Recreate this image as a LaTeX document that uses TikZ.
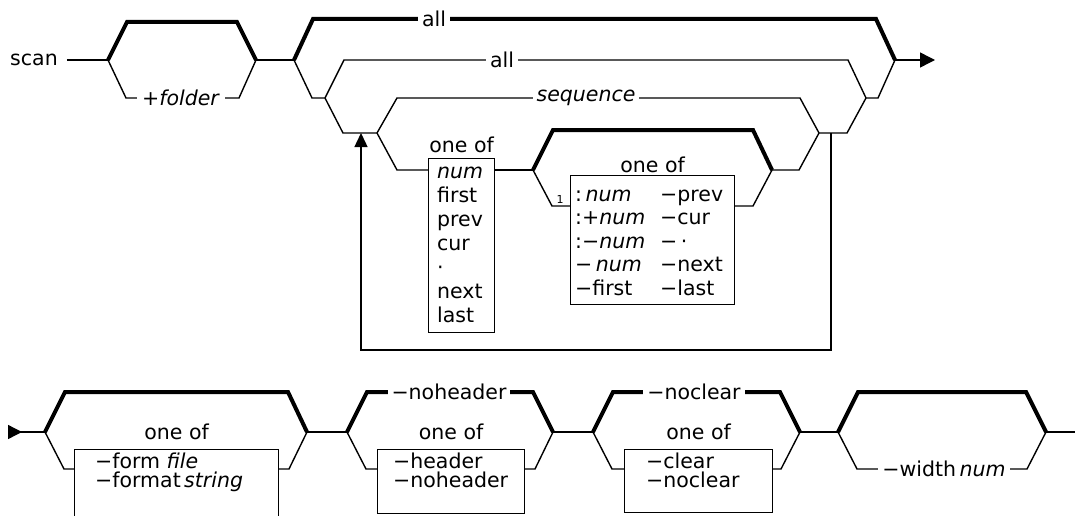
\documentclass[tikz,border=0pt]{standalone}
\usepackage{fontspec}
\setmainfont{DejaVu Sans}
\usetikzlibrary{arrows.meta}

\begin{document}
\begin{tikzpicture}[x=1pt, y=-1pt, line join=miter, font=\fontsize{20.5}{24}\selectfont]
\tikzset{
  rail/.style={line width=1.4pt},
  mainrail/.style={line width=4pt},
  railtext/.style={fill=white, inner xsep=4pt, inner ysep=1pt},
  choicebox/.style={draw, line width=1.2pt, inner sep=0pt, anchor=north west},
  choicelist/.style={anchor=base west, inner sep=0pt},
  oneof/.style={anchor=base, inner sep=0pt}
}
\useasboundingbox (0,0) rectangle (1075,516);
\clip (0,0) rectangle (1075,516);

% first line
\node[inner xsep=9pt] (scan) at (34,60) {scan};
\coordinate (fldfork) at (108,60);
\coordinate (fldjoin) at (256,60);
\coordinate (grpfork) at (294,60);
\coordinate (grpjoin) at (895,60);
\coordinate (rowend) at (935,60);
\coordinate (allfork) at (325,98);
\coordinate (alljoin) at (866,98);
\coordinate (seqfork) at (377,133);
\coordinate (seqjoin) at (819,133);
\coordinate (rngfork) at (533,170);
\coordinate (rngjoin) at (772,170);
\coordinate (loopleft) at (361,133);
\coordinate (loopright) at (831,133);

\draw[rail] (scan) -- (fldfork);
\draw[mainrail] (fldfork) -- (127,22) -- (237,22) -- (fldjoin);
\draw[rail] (fldfork) -- (126,98) -- (239,98) -- (fldjoin);
\node[railtext, inner xsep=5pt] (folder) at (181,98) {+\textit{folder}};
\draw[rail] (fldjoin) -- (grpfork);

\draw[mainrail] (grpfork) -- (313,19) -- (876,19) -- (grpjoin);
\node[railtext] (allone) at (434,19) {all};
\draw[rail, -{Triangle[length=15pt, width=15pt]}] (grpjoin) -- (rowend);

\draw[rail] (grpfork) -- (312,98) -- (allfork);
\draw[rail] (allfork) -- (344,60) -- (848,60) -- (alljoin) -- (878,98) -- (grpjoin);
\node[railtext] (alltwo) at (502,60) {all};

\draw[rail] (allfork) -- (343,133) -- (seqfork);
\draw[rail] (seqfork) -- (397,98) -- (800,98) -- (seqjoin) -- (847,133) -- (alljoin);
\node[railtext] (seq) at (586,98) {\textit{sequence}};

\node[choicebox, minimum width=66pt, minimum height=174pt] (ptbox) at (428,158) {};
\node[oneof] (ptoneof) at (ptbox.north |- 0,152) {one of};
\node[choicelist] (ptlist) at (437,178) {\begin{tabular}[t]{@{}l@{}}\textit{num}\\first\\prev\\cur\\·\\next\\last\end{tabular}};
\draw[rail] (seqfork) -- (397,170) -- (ptbox.west |- rngfork);
\draw[rail] (ptbox.east |- rngfork) -- (rngfork);

\node[choicebox, minimum width=164pt, minimum height=129pt] (rngbox) at (570,175) {};
\node[oneof] (rngoneof) at (rngbox.north |- 0,172) {one of};
\node[anchor=base, inner sep=0pt, font=\fontsize{11}{12}\selectfont] (rngcount) at (560,203) {1};
\node[choicelist] (rnglist) at (575,201) {\fontsize{20.5}{23.5}\selectfont
  \begin{tabular}[t]{@{}p{85pt}@{}l@{}}
  :\,\textit{num} & −prev\\
  :+\textit{num} & −cur\\
  :−\textit{num} & −\,·\\
  −\,\textit{num} & −next\\
  −first & −last
  \end{tabular}};
\draw[mainrail] (rngfork) -- (553,130) -- (753,130) -- (rngjoin);
\draw[rail] (rngfork) -- (552,206) -- (rngbox.west |- 0,206);
\draw[rail] (rngbox.east |- 0,206) -- (753,206) -- (rngjoin);
\draw[rail] (rngjoin) -- (799,170) -- (seqjoin);

\draw[rail, -{Triangle[length=14pt, width=13pt]}] (loopright) -- (831,350) -- (361,350) -- (loopleft);

% second line
\coordinate (rowtwo) at (8,432);
\coordinate (fmtfork) at (45,432);
\coordinate (fmtjoin) at (307,432);
\coordinate (hdrfork) at (347,432);
\coordinate (hdrjoin) at (553,432);
\coordinate (clrfork) at (593,432);
\coordinate (clrjoin) at (800,432);
\coordinate (widfork) at (838,432);
\coordinate (widjoin) at (1046,432);
\coordinate (rowtwoend) at (1075,432);

\draw[rail, {Triangle[reversed, length=14pt, width=14pt]}-] (rowtwo) -- (fmtfork);

\node[choicebox, minimum width=204pt, minimum height=100pt] (fmtbox) at (74,449) {};
\node[oneof] (fmtoneof) at (fmtbox.north |- 0,439) {one of};
\node[choicelist] (fmtlist) at (95,468) {\begin{tabular}[t]{@{}l@{}}−form \textit{file}\\[-5pt]−format\,\textit{string}\end{tabular}};
\draw[mainrail] (fmtfork) -- (65,392) -- (288,392) -- (fmtjoin);
\draw[rail] (fmtfork) -- (64,469) -- (fmtbox.west |- 0,469);
\draw[rail] (fmtbox.east |- 0,469) -- (289,469) -- (fmtjoin);
\draw[rail] (fmtjoin) -- (hdrfork);

\node[choicebox, minimum width=147pt, minimum height=64pt] (hdrbox) at (377,449) {};
\node[oneof] (hdroneof) at (hdrbox.north |- 0,439) {one of};
\node[choicelist] (hdrlist) at (393,468) {\begin{tabular}[t]{@{}l@{}}−header\\[-5pt]−noheader\end{tabular}};
\draw[mainrail] (hdrfork) -- (367,392) -- (533,392) -- (hdrjoin);
\node[railtext] (hdrdefault) at (449,392) {−noheader};
\draw[rail] (hdrfork) -- (366,469) -- (hdrbox.west |- 0,469);
\draw[rail] (hdrbox.east |- 0,469) -- (535,469) -- (hdrjoin);
\draw[rail] (hdrjoin) -- (clrfork);

\node[choicebox, minimum width=148pt, minimum height=63pt] (clrbox) at (624,449) {};
\node[oneof] (clroneof) at (clrbox.north |- 0,439) {one of};
\node[choicelist] (clrlist) at (646,468) {\begin{tabular}[t]{@{}l@{}}−clear\\[-5pt]−noclear\end{tabular}};
\draw[mainrail] (clrfork) -- (613,392) -- (780,392) -- (clrjoin);
\node[railtext] (clrdefault) at (694,392) {−noclear};
\draw[rail] (clrfork) -- (612,469) -- (clrbox.west |- 0,469);
\draw[rail] (clrbox.east |- 0,469) -- (781,469) -- (clrjoin);
\draw[rail] (clrjoin) -- (widfork);

\draw[mainrail] (widfork) -- (858,392) -- (1026,392) -- (widjoin);
\draw[rail] (widfork) -- (857,469) -- (1027,469) -- (widjoin);
\node[railtext] (widopt) at (944,469) {−width\,\textit{num}};
\draw[rail] (widjoin) -- (rowtwoend);
\end{tikzpicture}
\end{document}
